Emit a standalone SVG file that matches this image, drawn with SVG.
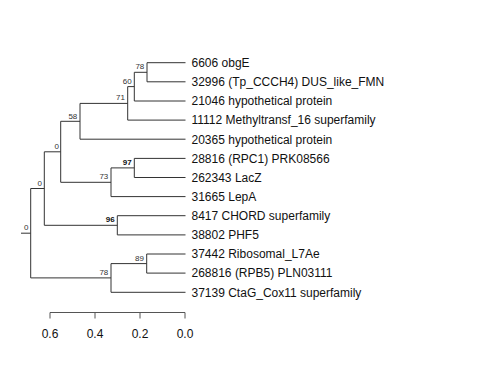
<svg xmlns="http://www.w3.org/2000/svg" width="480" height="384" viewBox="0 0 480 384">
<style>
.e{fill:none;stroke:#333;stroke-width:1}
.lf{font-family:"Liberation Sans",Arial,sans-serif;font-size:12px;fill:#111}
.bs{font-family:"Liberation Sans",Arial,sans-serif;font-size:8px;fill:#333;text-anchor:end}
.bb{font-weight:bold;fill:#111}
.ax{fill:none;stroke:#555;stroke-width:1}
.at{font-family:"Liberation Sans",Arial,sans-serif;font-size:12px;fill:#111;text-anchor:middle}
</style>
<rect width="480" height="384" fill="#fff"/>
<g id="connectors">
<path class="e" d="M21,233.2H30.7M30.7,188.5V277.9M30.7,188.5H44.3M30.7,277.9H111"/>
<path class="e" d="M44.3,151.8V225.3M44.3,151.8H60.7M44.3,225.3H117.3"/>
<path class="e" d="M60.7,121.3V182.3M60.7,121.3H80M60.7,182.3H111"/>
<path class="e" d="M80,103.4V139.2M80,103.4H127.7M80,139.2H185.5"/>
<path class="e" d="M127.7,86.6V120.1M127.7,86.6H134.3M127.7,120.1H185.5"/>
<path class="e" d="M134.3,72.3V101M134.3,72.3H147M134.3,101H185.5"/>
<path class="e" d="M147,62.7V81.8M147,62.7H185.5M147,81.8H185.5"/>
<path class="e" d="M111,167.9V196.6M111,167.9H134.3M111,196.6H185.5"/>
<path class="e" d="M134.3,158.4V177.5M134.3,158.4H185.5M134.3,177.5H185.5"/>
<path class="e" d="M117.3,215.7V234.9M117.3,215.7H185.5M117.3,234.9H185.5"/>
<path class="e" d="M111,263.6V292.3M111,263.6H146.7M111,292.3H185.5"/>
<path class="e" d="M146.7,254V273.1M146.7,254H185.5M146.7,273.1H185.5"/>
</g>
<g id="internal-nodes">
<g id="n_root"><text class="bs" x="28.5" y="230.2">0</text></g>
<g id="n_0b"><text class="bs" x="42" y="185.5">0</text></g>
<g id="n_0a"><text class="bs" x="59" y="148.5">0</text></g>
<g id="n_58"><text class="bs" x="77.3" y="118.6">58</text></g>
<g id="n_71"><text class="bs" x="125" y="100.4">71</text></g>
<g id="n_60"><text class="bs" x="131.6" y="83.6">60</text></g>
<g id="n_78a"><text class="bs" x="144.3" y="69.3">78</text></g>
<g id="n_73"><text class="bs" x="108.3" y="179.3">73</text></g>
<g id="n_97"><text class="bs bb" x="131.6" y="164.9">97</text></g>
<g id="n_96"><text class="bs bb" x="114.6" y="222.3">96</text></g>
<g id="n_78b"><text class="bs" x="108.3" y="274.9">78</text></g>
<g id="n_89"><text class="bs" x="144" y="260.6">89</text></g>
</g>
<g id="leaves">
<g id="leaf1"><text class="lf" x="191.5" y="67">6606 obgE</text></g>
<g id="leaf2"><text class="lf" x="191.5" y="86.1">32996 (Tp_CCCH4) DUS_like_FMN</text></g>
<g id="leaf3"><text class="lf" x="191.5" y="105.3">21046 hypothetical protein</text></g>
<g id="leaf4"><text class="lf" x="191.5" y="124.4">11112 Methyltransf_16 superfamily</text></g>
<g id="leaf5"><text class="lf" x="191.5" y="143.5">20365 hypothetical protein</text></g>
<g id="leaf6"><text class="lf" x="191.5" y="162.7">28816 (RPC1) PRK08566</text></g>
<g id="leaf7"><text class="lf" x="191.5" y="181.8">262343 LacZ</text></g>
<g id="leaf8"><text class="lf" x="191.5" y="200.9">31665 LepA</text></g>
<g id="leaf9"><text class="lf" x="191.5" y="220">8417 CHORD superfamily</text></g>
<g id="leaf10"><text class="lf" x="191.5" y="239.2">38802 PHF5</text></g>
<g id="leaf11"><text class="lf" x="191.5" y="258.3">37442 Ribosomal_L7Ae</text></g>
<g id="leaf12"><text class="lf" x="191.5" y="277.4">268816 (RPB5) PLN03111</text></g>
<g id="leaf13"><text class="lf" x="191.5" y="296.6">37139 CtaG_Cox11 superfamily</text></g>
</g>
<g id="axis">
<path class="ax" d="M50,312.5H185M50,312.5V318.5M95,312.5V318.5M140,312.5V318.5M185,312.5V318.5"/>
<text class="at" x="50" y="337.5">0.6</text>
<text class="at" x="95" y="337.5">0.4</text>
<text class="at" x="140" y="337.5">0.2</text>
<text class="at" x="185" y="337.5">0.0</text>
</g>
</svg>
